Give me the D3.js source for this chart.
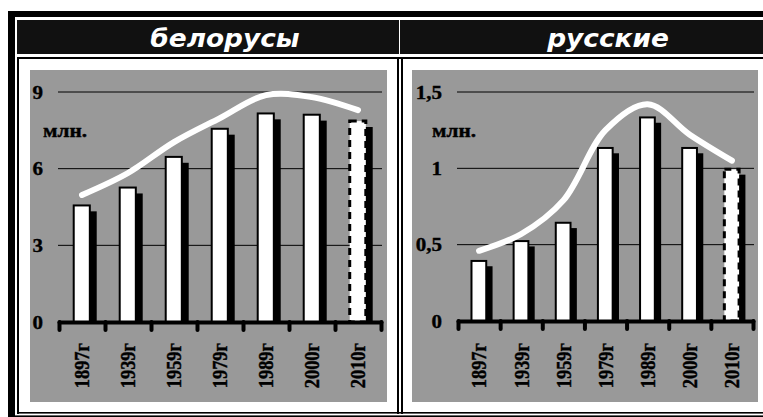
<!DOCTYPE html>
<html>
<head>
<meta charset="utf-8">
<script src="https://cdn.jsdelivr.net/npm/d3@7"></script>
<style>
  body { margin: 0; background: #fff; }
  svg { display: block; }
  .serif { font-family: 'Liberation Serif'; font-weight: bold; stroke: #000; stroke-width: 0.4px; }
</style>
</head>
<body>
<svg width="763" height="417"></svg>
<script>
const years = ['1897г', '1939г', '1959г', '1979г', '1989г', '2000г', '2010г'];

// белорусы, млн.
const belValues = [4.6, 5.3, 6.5, 7.6, 8.2, 8.15, 7.9];
const belTrend = [4.97, 5.83, 7.04, 7.98, 8.88, 8.8, 8.29];
const belTicks = [0, 3, 6, 9];
const belTickLabels = ['0', '3', '6', '9'];

// русские, млн.
const rusValues = [0.4, 0.53, 0.65, 1.14, 1.34, 1.14, 1.0];
const rusTrend = [0.46, 0.57, 0.79, 1.25, 1.42, 1.22, 1.05];
const rusTicks = [0, 0.5, 1, 1.5];
const rusTickLabels = ['0', '0,5', '1', '1,5'];

const svg = d3.select('svg');

// table frame
const frame = svg.append('g');
frame.append('rect').attr('x', 8).attr('y', 11).attr('width', 7).attr('height', 406);
frame.append('rect').attr('x', 8).attr('y', 11).attr('width', 755).attr('height', 6);
frame.append('rect').attr('x', 17).attr('y', 20).attr('width', 382).attr('height', 34).attr('fill', '#111');
frame.append('rect').attr('x', 400).attr('y', 20).attr('width', 363).attr('height', 34).attr('fill', '#111');
frame.append('rect').attr('x', 17).attr('y', 57).attr('width', 746).attr('height', 2);
frame.append('rect').attr('x', 17).attr('y', 57).attr('width', 2).attr('height', 357);
frame.append('rect').attr('x', 397).attr('y', 57).attr('width', 2).attr('height', 357);
frame.append('rect').attr('x', 401).attr('y', 57).attr('width', 2).attr('height', 357);
frame.append('rect').attr('x', 17).attr('y', 412).attr('width', 746).attr('height', 1.6);
frame.append('rect').attr('x', 15).attr('y', 415.4).attr('width', 748).attr('height', 1.6);

const panels = [
  {title: 'белорусы', titleX: 225, plot: [30, 70, 357, 332], xRange: [59, 381], y0: 322, mlnX: 43,
   domain: [0, 9], ticks: belTicks, labels: belTickLabels, values: belValues, trend: belTrend},
  {title: 'русские', titleX: 608, plot: [412, 70, 346, 332], xRange: [458, 753], y0: 321, mlnX: 432,
   domain: [0, 1.5], ticks: rusTicks, labels: rusTickLabels, values: rusValues, trend: rusTrend}
];

panels.forEach(p => {
  const g = svg.append('g');

  g.append('text')
    .attr('transform', `translate(${p.titleX},47) scale(1.1,1)`)
    .attr('text-anchor', 'middle')
    .style('font-family', 'DejaVu Sans')
    .style('font-weight', 'bold')
    .style('font-style', 'italic')
    .style('font-size', '24px')
    .attr('fill', '#fff')
    .text(p.title);

  g.append('rect')
    .attr('x', p.plot[0]).attr('y', p.plot[1])
    .attr('width', p.plot[2]).attr('height', p.plot[3])
    .attr('fill', '#999');

  const x = d3.scaleBand().domain(years).range(p.xRange);
  const bw = x.bandwidth();
  const y = d3.scaleLinear().domain(p.domain).range([p.y0, 92]);

  // gridlines
  g.selectAll('.grid').data(p.ticks.slice(1)).enter().append('line')
    .attr('x1', p.xRange[0] - 1).attr('x2', p.xRange[1] + 1)
    .attr('y1', d => y(d)).attr('y2', d => y(d))
    .attr('stroke', '#000').attr('stroke-width', 1);

  // y labels
  g.selectAll('.ylab').data(p.ticks).enter().append('text')
    .attr('class', 'serif')
    .attr('transform', d => `translate(${p.xRange[0] - 16},${y(d)}) scale(1,0.92)`)
    .attr('dy', '0.35em')
    .attr('text-anchor', 'end')
    .style('font-size', '21px')
    .text((d, i) => p.labels[i]);

  g.append('text')
    .attr('class', 'serif')
    .attr('x', p.mlnX).attr('y', 137)
    .attr('textLength', 44).attr('lengthAdjust', 'spacingAndGlyphs')
    .style('font-size', '18px')
    .text('млн.');

  const off = bw * 0.15;
  const bx = d => x(d) + bw * 0.32;
  const bwid = bw * 0.35;

  // shadows
  g.selectAll('.shadow').data(p.values).enter().append('rect')
    .attr('x', (d, i) => bx(years[i]) + off)
    .attr('y', d => y(d) + off)
    .attr('width', bwid)
    .attr('height', d => p.y0 - y(d) - off)
    .attr('fill', '#000');

  // bars
  g.selectAll('.bar').data(p.values).enter().append('rect')
    .attr('x', (d, i) => bx(years[i]))
    .attr('y', d => y(d) + 1)
    .attr('width', bwid)
    .attr('height', d => p.y0 - y(d) - 1)
    .attr('fill', '#fff')
    .attr('stroke', '#000')
    .attr('stroke-width', (d, i) => i === years.length - 1 ? 3 : 2)
    .attr('stroke-dasharray', (d, i) => i === years.length - 1 ? '7,5' : null);

  // axis
  const edge = d3.scaleLinear().domain([0, years.length]).range(p.xRange);
  const axis = g.append('g')
    .attr('transform', `translate(0,${p.y0})`)
    .call(d3.axisBottom(edge).tickValues(d3.range(years.length + 1)).tickSize(8).tickSizeOuter(0).tickFormat(''));
  axis.select('.domain').attr('stroke-width', 4).attr('stroke-linecap', 'round');
  axis.selectAll('.tick line').attr('stroke-width', 4).attr('stroke-linecap', 'round');

  // x labels
  g.selectAll('.xlab').data(years).enter().append('text')
    .attr('class', 'serif')
    .attr('transform', d => `translate(${x(d) + bw / 2},343) rotate(-90) scale(0.88,1)`)
    .attr('dy', '0.35em')
    .attr('text-anchor', 'end')
    .style('font-size', '21px')
    .text(d => d);

  // trend curve
  const line = d3.line()
    .x((d, i) => x(years[i]) + bw / 2)
    .y(d => y(d))
    .curve(d3.curveCatmullRom);
  g.append('path')
    .attr('d', line(p.trend))
    .attr('fill', 'none')
    .attr('stroke', '#fff')
    .attr('stroke-width', 6)
    .attr('stroke-linecap', 'round');
});
</script>
</body>
</html>
